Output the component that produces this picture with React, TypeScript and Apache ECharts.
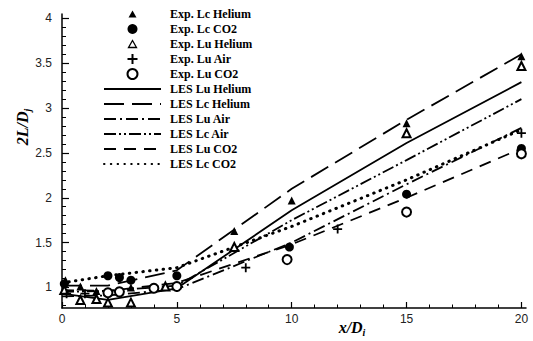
import React, { useEffect, useRef } from "react";
import * as echarts from "echarts";

// Experimental points [x/Di, 2L/Dj]
const expLcHelium = [[0.15, 1.08], [0.8, 1.01], [1.5, 0.96], [3.0, 1.0], [7.5, 1.63], [10, 1.97], [15, 2.83], [20, 3.58]];
const expLcCO2 = [[0.1, 1.04], [2.0, 1.13], [2.5, 1.11], [3.0, 1.08], [5.0, 1.13], [9.9, 1.45], [15, 2.04], [20, 2.55]];
const expLuHelium = [[0.1, 0.97], [0.8, 0.86], [1.5, 0.87], [2.0, 0.83], [3.0, 0.83], [4.5, 1.01], [7.5, 1.45], [15, 2.72], [20, 3.47]];
const expLuAir = [[0.2, 0.93], [1.0, 0.93], [4.0, 1.0], [5.0, 1.0], [8.0, 1.22], [12.0, 1.65], [20, 2.72]];
const expLuCO2 = [[2.0, 0.94], [2.5, 0.95], [4.0, 0.99], [5.0, 1.01], [9.8, 1.31], [15, 1.84], [20, 2.49]];

// LES curves
const lesX = [0, 2, 5, 10, 15, 20];
const lesLuHelium = [0.93, 0.86, 0.99, 1.86, 2.61, 3.29];
const lesLcHelium = [1.02, 1.02, 1.19, 2.1, 2.87, 3.6];
const lesLuAir = [0.9, 0.91, 0.98, 1.5, 2.15, 2.78];
const lesLcAir = [0.95, 0.96, 1.02, 1.75, 2.42, 3.1];
const lesLuCO2 = [0.97, 0.96, 1.05, 1.48, 2.0, 2.55];
const lesLcCO2 = [1.05, 1.13, 1.22, 1.68, 2.2, 2.76];

const xMajor = [0, 5, 10, 15, 20];
const xMinor = [1, 2, 3, 4, 6, 7, 8, 9, 11, 12, 13, 14, 16, 17, 18, 19];
const yMajor = [1, 1.5, 2, 2.5, 3, 3.5, 4];
const yMinor = [0.8, 0.9, 1.1, 1.2, 1.3, 1.4, 1.6, 1.7, 1.8, 1.9, 2.1, 2.2, 2.3, 2.4, 2.6, 2.7, 2.8, 2.9, 3.1, 3.2, 3.3, 3.4, 3.6, 3.7, 3.8, 3.9];

const PLUS = "path://M4,0H6V4H10V6H6V10H4V6H0V4H4Z";
// legend-only triangle icon, centred in a 57x10 box
const LEGEND_TRI = "path://M0,0M57,0M57,10M0,10M24.5,8.5L28.5,1.5L32.5,8.5Z";

export default function App() {
  const ref = useRef<HTMLDivElement>(null);
  useEffect(() => {
    if (!ref.current) return;
    const chart = echarts.init(ref.current, null, { renderer: "svg" });
    const zip = (ys: number[]) => lesX.map((x, i) => [x, ys[i]]);
    const lineSeries = (name: string, ys: number[], type: any, extra: any = {}) => ({
      name,
      type: "line",
      data: zip(ys),
      symbol: "none",
      showSymbol: false,
      z: 2,
      lineStyle: { color: "#000", width: 1.8, type, ...extra },
      itemStyle: { color: "#000", opacity: 0 },
    });
    const scatter = (name: string, data: number[][], symbol: string, size: number, empty = false) => ({
      name,
      type: "scatter",
      data,
      symbol,
      symbolSize: size,
      symbolKeepAspect: true,
      z: 5,
      itemStyle: empty
        ? { color: "#000", borderColor: "#000", borderWidth: 1.3, opacity: 1 }
        : { color: "#000", opacity: 1 },
    });
    const axisText = { color: "#222", fontFamily: "Liberation Sans", fontSize: 12 };
    const lesLegend = (name: string) => ({ name, itemStyle: { opacity: 0 } });
    chart.setOption({
      animation: false,
      grid: { left: 62, right: 7, top: 14, bottom: 33 },
      xAxis: [
        {
          type: "value", min: 0, max: 20.2,
          axisLine: { lineStyle: { color: "#000", width: 1.5 } },
          axisTick: { customValues: xMajor, inside: true, length: 6, lineStyle: { color: "#000", width: 1.2 } },
          axisLabel: { customValues: xMajor, margin: 5, ...axisText },
          splitLine: { show: false },
        },
        {
          type: "value", min: 0, max: 20.2, position: "bottom",
          axisLine: { show: false },
          axisTick: { customValues: xMinor, inside: true, length: 3.5, lineStyle: { color: "#000", width: 1 } },
          axisLabel: { show: false },
          splitLine: { show: false },
        },
      ],
      yAxis: [
        {
          type: "value", min: 0.77, max: 4.05,
          axisLine: { show: true, lineStyle: { color: "#000", width: 1.5 } },
          axisTick: { show: true, customValues: yMajor, inside: true, length: 7, lineStyle: { color: "#000", width: 1.2 } },
          axisLabel: { customValues: yMajor, margin: 10, ...axisText },
          splitLine: { show: false },
        },
        {
          type: "value", min: 0.77, max: 4.05, position: "left",
          axisLine: { show: false },
          axisTick: { show: true, customValues: yMinor, inside: true, length: 4, lineStyle: { color: "#000", width: 1 } },
          axisLabel: { show: false },
          splitLine: { show: false },
        },
      ],
      legend: {
        orient: "vertical",
        left: 103,
        top: 8,
        padding: 0,
        itemWidth: 57,
        itemHeight: 10,
        itemGap: 3,
        symbolKeepAspect: true,
        textStyle: {
          fontFamily: "Liberation Serif",
          fontWeight: "bold",
          fontSize: 12,
          lineHeight: 12,
          color: "#000",
          padding: [0, 0, 0, 4],
        },
        data: [
          { name: "Exp. Lc Helium", icon: LEGEND_TRI, itemStyle: { color: "#000", borderWidth: 0 } },
          { name: "Exp. Lc CO2" },
          { name: "Exp. Lu Helium", icon: LEGEND_TRI, itemStyle: { color: "#fff", borderColor: "#000", borderWidth: 1.3 } },
          { name: "Exp. Lu Air" },
          { name: "Exp. Lu CO2" },
          lesLegend("LES Lu Helium"),
          lesLegend("LES Lc Helium"),
          lesLegend("LES Lu Air"),
          lesLegend("LES Lc Air"),
          lesLegend("LES Lu CO2"),
          lesLegend("LES Lc CO2"),
        ],
      },
      graphic: [
        {
          type: "text",
          x: 352,
          y: 327,
          style: {
            text: "{a|x/D}{s|i}",
            align: "center",
            verticalAlign: "middle",
            rich: {
              a: { fontFamily: "Liberation Serif", fontStyle: "italic", fontWeight: "bold", fontSize: 16, lineHeight: 20, verticalAlign: "middle", fill: "#000" },
              s: { fontFamily: "Liberation Serif", fontStyle: "italic", fontWeight: "bold", fontSize: 10, lineHeight: 10, verticalAlign: "bottom", fill: "#000" },
            },
          },
        },
        {
          type: "text",
          x: 22,
          y: 127,
          rotation: Math.PI / 2,
          style: {
            text: "{a|2L/D}{s|j}",
            align: "center",
            verticalAlign: "middle",
            rich: {
              a: { fontFamily: "Liberation Serif", fontStyle: "italic", fontWeight: "bold", fontSize: 16, lineHeight: 20, verticalAlign: "middle", fill: "#000" },
              s: { fontFamily: "Liberation Serif", fontStyle: "italic", fontWeight: "bold", fontSize: 10, lineHeight: 10, verticalAlign: "bottom", fill: "#000" },
            },
          },
        },
      ],
      series: [
        scatter("Exp. Lc Helium", expLcHelium, "triangle", 8),
        scatter("Exp. Lc CO2", expLcCO2, "circle", 9),
        scatter("Exp. Lu Helium", expLuHelium, "emptyTriangle", 8, true),
        scatter("Exp. Lu Air", expLuAir, PLUS, 9),
        scatter("Exp. Lu CO2", expLuCO2, "emptyCircle", 9, true),
        lineSeries("LES Lu Helium", lesLuHelium, "solid"),
        lineSeries("LES Lc Helium", lesLcHelium, [20, 8]),
        lineSeries("LES Lu Air", lesLuAir, [12, 4, 2, 4]),
        lineSeries("LES Lc Air", lesLcAir, [12, 3, 2, 3, 2, 3]),
        lineSeries("LES Lu CO2", lesLuCO2, [12, 8]),
        lineSeries("LES Lc CO2", lesLcCO2, [0.5, 6.3], { width: 3, cap: "round" }),
      ],
    });
    return () => chart.dispose();
  }, []);
  return (
    <div
      ref={ref}
      style={{ position: "fixed", left: 0, top: 0, width: 533, height: 341, background: "#fff" }}
    />
  );
}
